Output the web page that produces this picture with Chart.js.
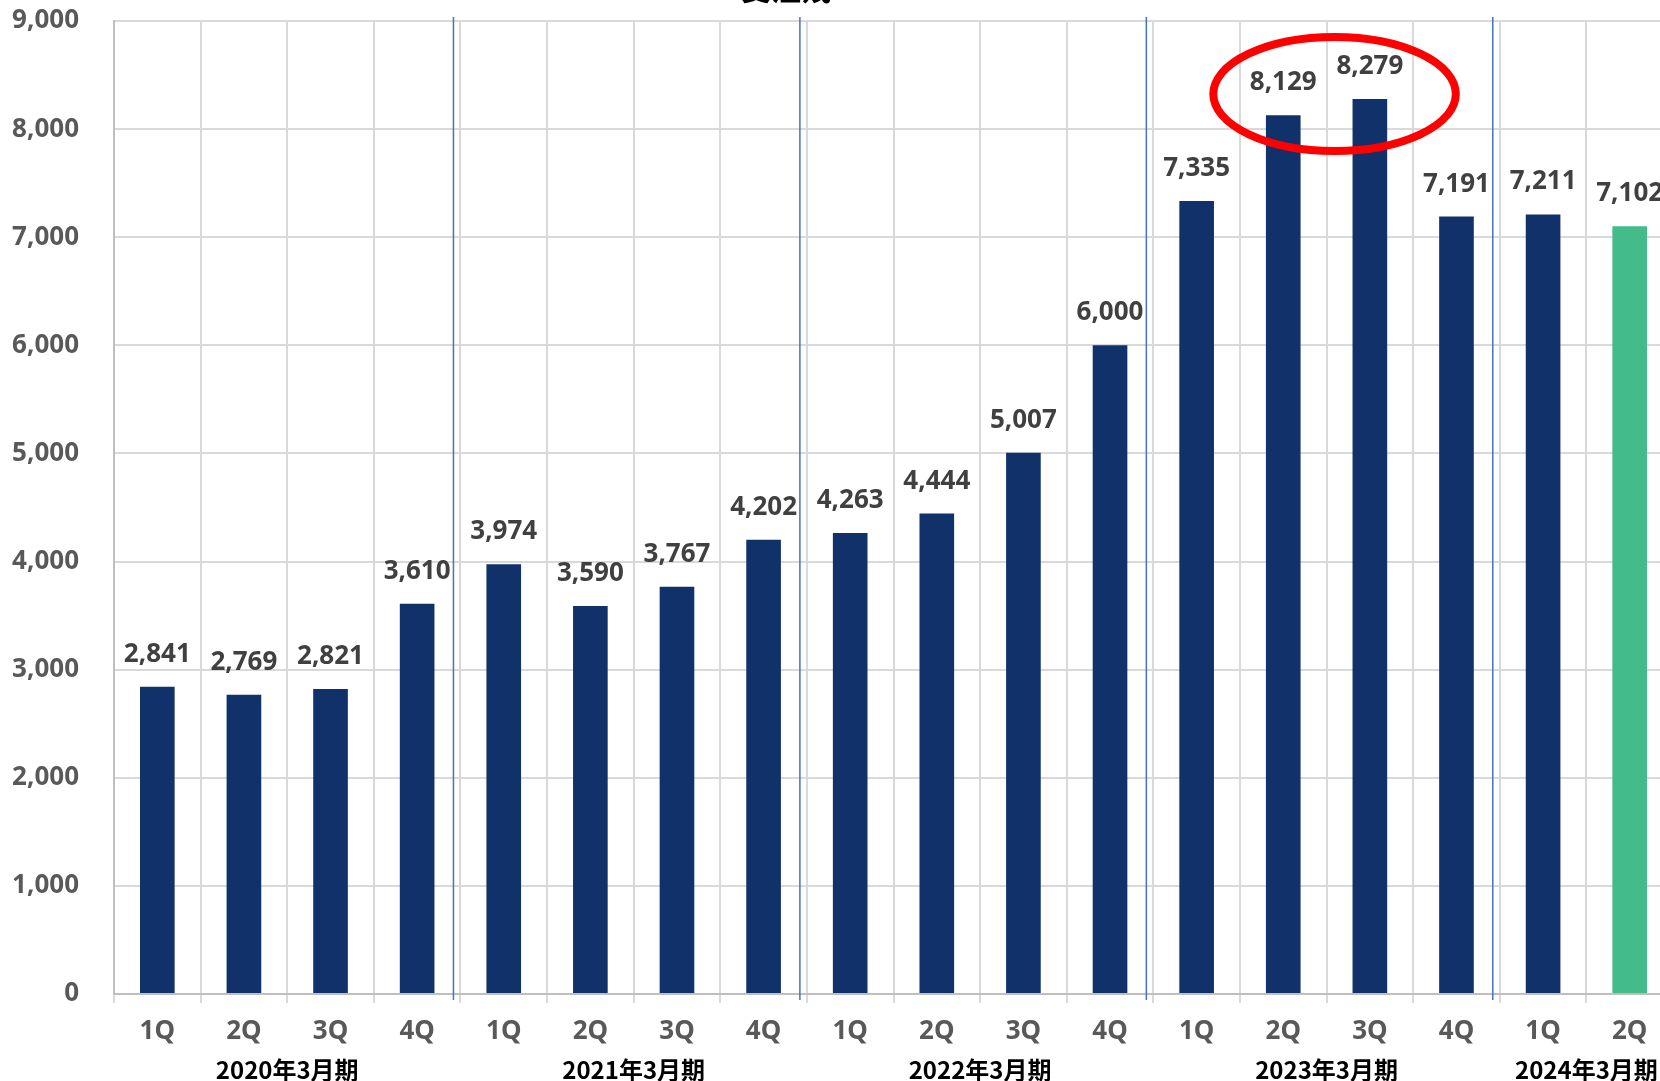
<!DOCTYPE html>
<html>
<head>
<meta charset="utf-8">
<script src="https://cdn.jsdelivr.net/npm/chart.js@4/dist/chart.umd.min.js"></script>
<style>
  html, body { margin: 0; padding: 0; overflow: hidden; background: #fff; }
  #wrap { width: 1700px; height: 1081px; position: relative; }
</style>
</head>
<body>
<div id="wrap"><canvas id="graph"></canvas></div>
<script>
// quarterly values (top of each bar)
const quarters = ['1Q','2Q','3Q','4Q','1Q','2Q','3Q','4Q','1Q','2Q','3Q','4Q','1Q','2Q','3Q','4Q','1Q','2Q'];
const values = [2841, 2769, 2821, 3610, 3974, 3590, 3767, 4202, 4263, 4444, 5007, 6000, 7335, 8129, 8279, 7191, 7211, 7102];
const fiscalYears = ['2020年3月期', '2021年3月期', '2022年3月期', '2023年3月期', '2024年3月期'];
const quartersPerYear = [4, 4, 4, 4, 2];
const yTicks = [0, 1000, 2000, 3000, 4000, 5000, 6000, 7000, 8000, 9000];
const chartTitle = '受注残';

const NAVY = '#11316a';
const GREEN = '#44bb8b';
const barColors = values.map((v, i) => i === values.length - 1 ? GREEN : NAVY);

const fmt = v => v.toLocaleString('en-US');

// extra drawing: value labels, year labels, blue separators, red ellipse
const extras = {
  id: 'extras',
  afterDatasetsDraw(chart) {
    const ctx = chart.ctx;
    const x = chart.scales.x, y = chart.scales.y;
    const bars = chart.getDatasetMeta(0).data;
    ctx.save();

    // value labels
    ctx.font = 'bold 26px "Noto Sans"';
    ctx.fillStyle = '#404040';
    ctx.textAlign = 'center';
    ctx.textBaseline = 'alphabetic';
    bars.forEach((b, i) => ctx.fillText(fmt(values[i]), b.x, b.y - 25));

    // fiscal year separators
    ctx.strokeStyle = '#4472c4';
    ctx.lineWidth = 1.5;
    let idx = 0;
    quartersPerYear.forEach((n, g) => {
      idx += n;
      if (g === quartersPerYear.length - 1) return;
      const bx = (x.getPixelForValue(idx - 1) + x.getPixelForValue(idx)) / 2 - 7;
      ctx.beginPath();
      ctx.moveTo(bx, 17);
      ctx.lineTo(bx, chart.chartArea.bottom + 6);
      ctx.stroke();
    });

    // fiscal year labels
    ctx.font = 'bold 24px "Noto Sans CJK JP"';
    ctx.fillStyle = '#000';
    ctx.textBaseline = 'middle';
    idx = 0;
    quartersPerYear.forEach((n, g) => {
      const cx = (x.getPixelForValue(idx) + x.getPixelForValue(idx + n - 1)) / 2;
      ctx.fillText(fiscalYears[g], cx, 1070);
      idx += n;
    });

    // highlight ellipse around the two peak quarters
    const ex = (bars[13].x + bars[14].x) / 2 + 8;
    const ey = y.getPixelForValue(8325);
    const cw = bars[14].x - bars[13].x;
    ctx.strokeStyle = '#ff0000';
    ctx.lineWidth = 8;
    ctx.beginPath();
    ctx.ellipse(ex, ey, cw * 1.4, 57, 0, 0, Math.PI * 2);
    ctx.stroke();

    // title (mostly above the visible area)
    ctx.font = 'bold 30px "Noto Sans CJK JP"';
    ctx.fillStyle = '#000';
    ctx.textBaseline = 'alphabetic';
    ctx.fillText(chartTitle, 786, 0);

    ctx.restore();
  }
};

new Chart(document.getElementById('graph').getContext('2d'), {
  type: 'bar',
  data: {
    labels: quarters,
    datasets: [{
      data: values,
      backgroundColor: barColors,
      barPercentage: 0.4,
      categoryPercentage: 1.0
    }]
  },
  options: {
    responsive: true,
    maintainAspectRatio: false,
    animation: false,
    layout: { padding: { left: 0, right: 27, top: 21, bottom: 0 } },
    plugins: {
      legend: { display: false },
      tooltip: { enabled: false },
      title: { display: false }
    },
    scales: {
      x: {
        grid: { offset: true, color: '#d9d9d9', lineWidth: 2, tickLength: 9 },
        border: { color: '#bfbfbf', width: 2 },
        ticks: { color: '#595959', font: { family: 'Noto Sans', size: 26, weight: 'bold' }, padding: 13, maxRotation: 0 },
        afterFit(a) { a.height = 87; a.paddingLeft = 0; a.paddingRight = 0; }
      },
      y: {
        min: 0,
        max: 9000,
        afterBuildTicks(a) { a.ticks = yTicks.map(v => ({ value: v })); },
        grid: { color: '#d9d9d9', lineWidth: 2, drawTicks: false },
        border: { color: '#bfbfbf', width: 2 },
        ticks: { color: '#595959', font: { family: 'Noto Sans', size: 26, weight: 'bold' }, padding: 35, callback: v => fmt(v) },
        afterFit(a) { a.width = 114; a.paddingTop = 0; a.paddingBottom = 0; }
      }
    }
  },
  plugins: [extras]
});
</script>
</body>
</html>
